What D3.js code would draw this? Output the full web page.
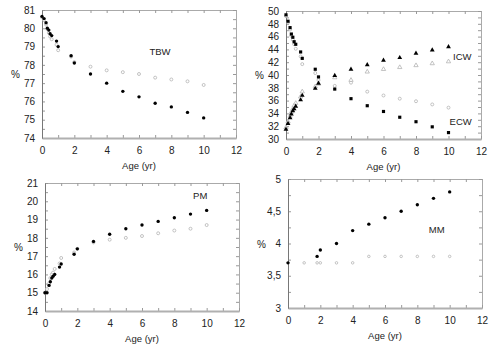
<!DOCTYPE html>
<html lang="en">
  <head>
    <meta charset="UTF-8" />
    <title>body composition</title>
    <style>
      body { margin: 0; background: #fff; }
      text { font-family: 'Liberation Sans', Arial, sans-serif; fill: #222; }
    </style>
  </head>
  <body>
    <svg id="svg" width="494" height="353"></svg>
    <script src="https://cdn.jsdelivr.net/npm/d3@7/dist/d3.min.js"></script>
    <script>
      // ages (yr) shared by the first three panels
      const ages = [0, 0.125, 0.25, 0.33, 0.42, 0.5, 0.6, 0.9, 1, 1.8, 2, 3, 4, 5, 6, 7, 8, 9, 10]

      const tbw = [80.65, 80.53, 80.3, 80.0, 79.9, 79.7, 79.6, 79.3, 79.0, 78.5, 78.1, 77.5, 77.0, 76.55, 76.25, 75.9, 75.7, 75.4, 75.1]
      const tbwRef = [80.6, 80.45, 80.2, 79.95, 79.75, 79.55, 79.4, 79.1, 78.8, 78.45, 78.15, 77.9, 77.7, 77.6, 77.5, 77.3, 77.2, 77.1, 76.9]

      const ecw = [49.4, 48.4, 47.4, 46.4, 45.9, 45.2, 44.8, 43.6, 42.6, 40.9, 39.7, 37.8, 36.3, 35.2, 34.3, 33.4, 32.7, 31.9, 31.0]
      const ecwRef = [49.2, 48.2, 47.1, 46.1, 45.5, 44.8, 44.1, 42.9, 41.7, 40.3, 39.2, 38.3, 38.8, 37.4, 36.8, 36.3, 35.9, 35.4, 34.9]
      const icw = [31.5, 32.4, 33.3, 33.9, 34.4, 34.7, 35.1, 36.1, 36.8, 37.9, 38.7, 39.9, 40.9, 41.6, 42.3, 42.7, 43.4, 43.9, 44.4]
      const icwRef = [31.8, 32.7, 33.6, 34.2, 34.7, 35.2, 35.6, 36.6, 37.4, 38.2, 38.6, 39.6, 39.2, 40.5, 40.9, 41.2, 41.5, 41.8, 42.1]

      const pm = [15.0, 15.0, 15.4, 15.6, 15.8, 15.9, 16.0, 16.4, 16.57, 17.1, 17.4, 17.8, 18.2, 18.5, 18.7, 18.9, 19.1, 19.3, 19.5]
      const pmRef = [15.0, 15.2, 15.5, 15.8, 16.0, 16.1, 16.3, 16.6, 16.9, 17.2, 17.4, 17.75, 17.9, 18.0, 18.1, 18.25, 18.4, 18.5, 18.7]

      const mmAges = [0, 1.8, 2, 3, 4, 5, 6, 7, 8, 9, 10]
      const mm = [3.7, 3.8, 3.9, 4.0, 4.2, 4.3, 4.4, 4.5, 4.6, 4.7, 4.8]
      const mmRefAges = [1, 1.8, 2, 3, 4, 5, 6, 7, 8, 9, 10]
      const mmRef = [3.7, 3.7, 3.7, 3.7, 3.7, 3.8, 3.8, 3.8, 3.8, 3.8, 3.8]

      const xTicks = [0, 2, 4, 6, 8, 10, 12]
      const tbwTicks = [74, 75, 76, 77, 78, 79, 80, 81]
      const cwTicks = [30, 32, 34, 36, 38, 40, 42, 44, 46, 48, 50]
      const pmTicks = [14, 15, 16, 17, 18, 19, 20, 21]
      const mmTicks = [3, 3.5, 4, 4.5, 5]

      const svg = d3.select('#svg')
      const zip = (xs, ys) => xs.map((x, i) => [x, ys[i]])
      const commaFmt = (d) => String(d).replace('.', ',')

      function panel(cfg) {
        const g = svg.append('g')
        const x = d3.scaleLinear().domain([0, 12]).range([cfg.left, cfg.right])
        const y = d3.scaleLinear().domain(cfg.yDomain).range([cfg.bottom, cfg.top])
        const minorX = d3.range(0, 12.01, 1)
        const minorY = d3.range(cfg.yDomain[0], cfg.yDomain[1] + 1e-6, cfg.yMinor)

        // frame with inward ticks on four sides
        const tick = (axis, vals, tr) =>
          g.append('g').attr('transform', tr)
            .call(axis.tickValues(vals).tickSize(-3).tickSizeOuter(0).tickFormat(''))
        tick(d3.axisTop(x), minorX, `translate(0,${cfg.top})`)
        tick(d3.axisRight(y), minorY, `translate(${cfg.right},0)`)
        tick(d3.axisLeft(y), minorY, `translate(${cfg.left},0)`)
        tick(d3.axisBottom(x), minorX, `translate(0,${cfg.bottom})`)
        g.selectAll('.domain').attr('stroke', '#aaa')
        g.selectAll('.tick line').attr('stroke', '#999')

        // labelled axes
        const xa = g.append('g').attr('transform', `translate(0,${cfg.bottom})`)
          .call(d3.axisBottom(x).tickValues(xTicks).tickSize(0).tickPadding(9))
        xa.select('.domain').attr('stroke', '#b0b0b0').attr('stroke-width', 2)
        const ya = g.append('g').attr('transform', `translate(${cfg.left},0)`)
          .call(d3.axisLeft(y).tickValues(cfg.yTicks).tickSize(0).tickPadding(7)
            .tickFormat(cfg.yFormat || d3.format('d')))
        ya.select('.domain').attr('stroke', '#777')
        g.selectAll('.tick text').attr('font-family', "'Liberation Sans', Arial, sans-serif")
          .attr('font-size', 10).attr('fill', '#222')

        g.append('text').attr('x', cfg.left - 31).attr('y', (cfg.top + cfg.bottom) / 2 + 4)
          .attr('font-size', 10).text('%')
        g.append('text').attr('x', (cfg.left + cfg.right) / 2).attr('y', cfg.bottom + 31)
          .attr('text-anchor', 'middle').attr('font-size', 9.5).text('Age (yr)')

        cfg.labels.forEach((l) => {
          g.append('text').attr('x', x(l.at[0])).attr('y', y(l.at[1]))
            .attr('font-size', 9.5).attr('text-anchor', 'middle').text(l.text)
        })

        cfg.series.forEach((s) => {
          const sym = d3.symbol().type(s.shape).size(s.size)
          g.append('g').selectAll('path').data(s.data).enter().append('path')
            .attr('transform', (d) => `translate(${x(d[0])},${y(d[1])})`)
            .attr('d', sym)
            .attr('fill', s.filled ? '#000' : '#fff')
            .attr('stroke', s.filled ? 'none' : '#b4b4b4')
            .attr('stroke-width', 0.8)
        })
      }

      panel({
        left: 42, right: 236, top: 10, bottom: 138,
        yDomain: [74, 81], yTicks: tbwTicks, yMinor: 0.5,
        labels: [{ text: 'TBW', at: [7.3, 78.55] }],
        series: [
          { data: zip(ages, tbwRef), shape: d3.symbolCircle, size: 7, filled: false },
          { data: zip(ages, tbw), shape: d3.symbolCircle, size: 9, filled: true }
        ]
      })

      panel({
        left: 286, right: 481, top: 11, bottom: 139,
        yDomain: [30, 50], yTicks: cwTicks, yMinor: 1,
        labels: [{ text: 'ICW', at: [10.85, 42.3] }, { text: 'ECW', at: [10.75, 32.2] }],
        series: [
          { data: zip(ages, ecwRef), shape: d3.symbolCircle, size: 7, filled: false },
          { data: zip(ages, icwRef), shape: d3.symbolTriangle, size: 8, filled: false },
          { data: zip(ages, ecw), shape: d3.symbolSquare, size: 10, filled: true },
          { data: zip(ages, icw), shape: d3.symbolTriangle, size: 10, filled: true }
        ]
      })

      panel({
        left: 45, right: 239, top: 183, bottom: 311,
        yDomain: [14, 21], yTicks: pmTicks, yMinor: 0.5,
        labels: [{ text: 'PM', at: [9.6, 20.1] }],
        series: [
          { data: zip(ages, pmRef), shape: d3.symbolCircle, size: 7, filled: false },
          { data: zip(ages, pm), shape: d3.symbolCircle, size: 9, filled: true }
        ]
      })

      panel({
        left: 288, right: 482, top: 179, bottom: 308,
        yDomain: [3, 5], yTicks: mmTicks, yMinor: 0.25, yFormat: commaFmt,
        labels: [{ text: 'MM', at: [9.2, 4.17] }],
        series: [
          { data: zip(mmRefAges, mmRef), shape: d3.symbolCircle, size: 5, filled: false },
          { data: zip(mmAges, mm), shape: d3.symbolCircle, size: 9, filled: true }
        ]
      })
    </script>
  </body>
</html>
